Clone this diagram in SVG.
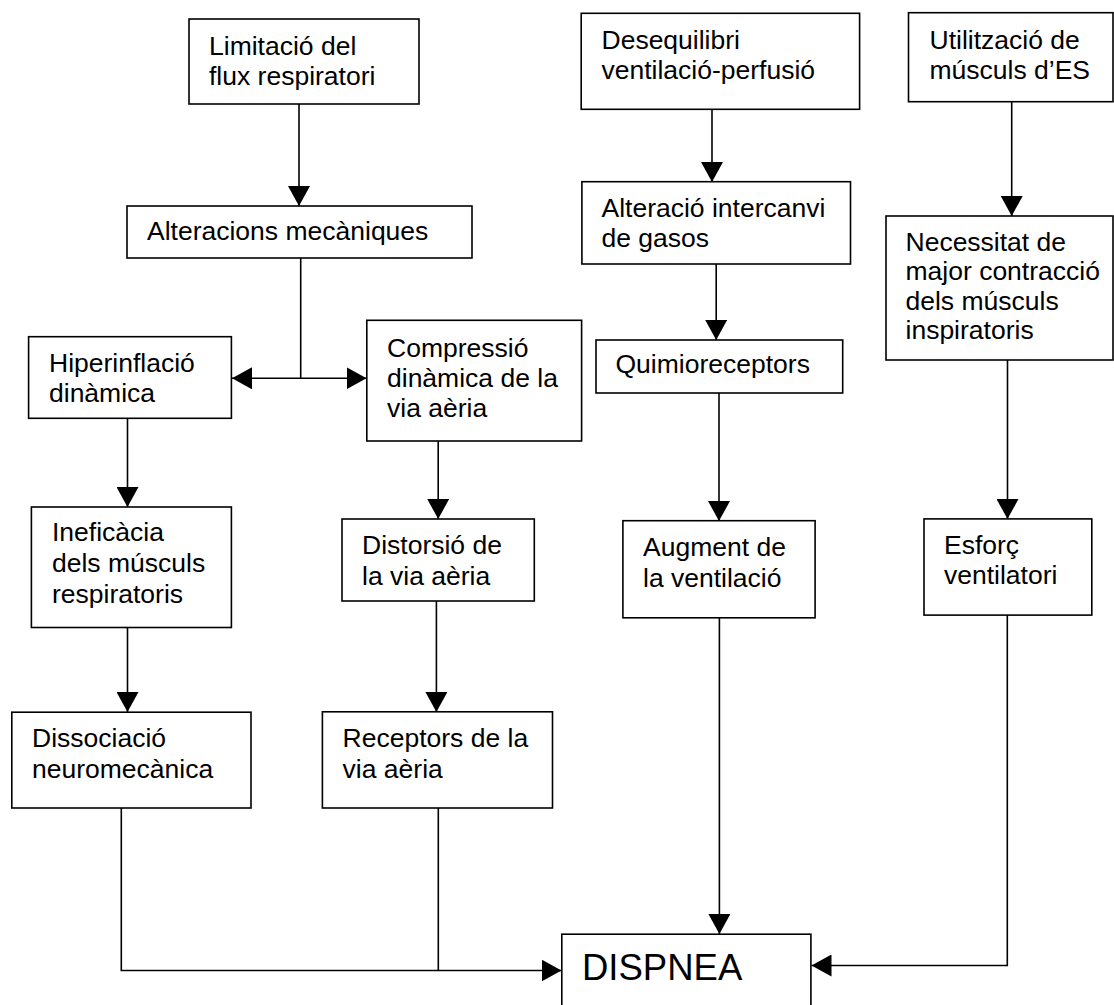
<svg xmlns="http://www.w3.org/2000/svg" width="1114" height="1005" viewBox="0 0 1114 1005">
<style>
.box{fill:#fff;stroke:#000;stroke-width:1.6}
.t{font-family:"Liberation Sans",Arial,sans-serif;font-size:26.5px;fill:#000}
.big{font-family:"Liberation Sans",Arial,sans-serif;font-size:36.5px;fill:#000}
.c{fill:none;stroke:#000;stroke-width:1.6}
</style>
<defs>
<marker id="ah" viewBox="0 0 20 22" markerWidth="20" markerHeight="22" refX="20" refY="11" orient="auto-start-reverse" markerUnits="userSpaceOnUse">
<path d="M0,0 L20,11 L0,22 Z" fill="#000"/>
</marker>
</defs>
<rect width="1114" height="1005" fill="#fff"/>
<g id="connectors">
<line class="c" x1="299" y1="104" x2="299" y2="206" marker-end="url(#ah)"/>
<line class="c" x1="300.7" y1="258" x2="300.7" y2="378"/>
<line class="c" x1="232" y1="378.3" x2="366.5" y2="378.3" marker-start="url(#ah)" marker-end="url(#ah)"/>
<line class="c" x1="127.5" y1="418" x2="127.5" y2="507" marker-end="url(#ah)"/>
<line class="c" x1="127.5" y1="627.5" x2="127.5" y2="712" marker-end="url(#ah)"/>
<polyline class="c" points="121.3,808 121.3,970.5 561.5,970.5" marker-end="url(#ah)"/>
<line class="c" x1="438.3" y1="808" x2="438.3" y2="970.5"/>
<line class="c" x1="438.2" y1="441" x2="438.2" y2="519" marker-end="url(#ah)"/>
<line class="c" x1="436.4" y1="601" x2="436.4" y2="712" marker-end="url(#ah)"/>
<line class="c" x1="712" y1="109" x2="712" y2="182" marker-end="url(#ah)"/>
<line class="c" x1="716.2" y1="264" x2="716.2" y2="340" marker-end="url(#ah)"/>
<line class="c" x1="719" y1="393" x2="719" y2="521" marker-end="url(#ah)"/>
<line class="c" x1="719.4" y1="618" x2="719.4" y2="934" marker-end="url(#ah)"/>
<line class="c" x1="1011.7" y1="101.7" x2="1011.7" y2="216" marker-end="url(#ah)"/>
<line class="c" x1="1007.5" y1="360" x2="1007.5" y2="519" marker-end="url(#ah)"/>
<polyline class="c" points="1007.3,615 1007.3,965.5 811.5,965.5" marker-end="url(#ah)"/>
</g>
<g id="limitacio"><rect class="box" x="189" y="19" width="230" height="85"/><text class="t" x="209" y="55">Limitació del</text><text class="t" x="209" y="84.5">flux respiratori</text></g>
<g id="alteracions"><rect class="box" x="127" y="206" width="345" height="52"/><text class="t" x="147" y="240">Alteracions mecàniques</text></g>
<g id="hiperinflacio"><rect class="box" x="28.6" y="336.7" width="202.8" height="81.6"/><text class="t" x="49" y="371.7">Hiperinflació</text><text class="t" x="49" y="401.7">dinàmica</text></g>
<g id="compressio"><rect class="box" x="366.8" y="320.3" width="214.8" height="120.7"/><text class="t" x="387" y="356.5">Compressió</text><text class="t" x="387" y="386.6">dinàmica de la</text><text class="t" x="387" y="416.7">via aèria</text></g>
<g id="ineficacia"><rect class="box" x="31.4" y="507" width="200" height="120.5"/><text class="t" x="52" y="541.3">Ineficàcia</text><text class="t" x="52" y="572.2">dels músculs</text><text class="t" x="52" y="603">respiratoris</text></g>
<g id="distorsio"><rect class="box" x="342" y="519" width="192.3" height="82"/><text class="t" x="362" y="554.3">Distorsió de</text><text class="t" x="362" y="584.9">la via aèria</text></g>
<g id="dissociacio"><rect class="box" x="11.8" y="712.2" width="239.2" height="95.8"/><text class="t" x="32" y="746.5">Dissociació</text><text class="t" x="32" y="777.5">neuromecànica</text></g>
<g id="receptors"><rect class="box" x="322.4" y="711.8" width="230.1" height="96.2"/><text class="t" x="342.6" y="747">Receptors de la</text><text class="t" x="342.6" y="778">via aèria</text></g>
<g id="desequilibri"><rect class="box" x="581.2" y="13.3" width="278.4" height="96"/><text class="t" x="601.5" y="49.3">Desequilibri</text><text class="t" x="601.5" y="78.7">ventilació-perfusió</text></g>
<g id="alteracio"><rect class="box" x="581.9" y="181.7" width="268.6" height="82.3"/><text class="t" x="601.5" y="217.3">Alteració intercanvi</text><text class="t" x="601.5" y="246.7">de gasos</text></g>
<g id="quimioreceptors"><rect class="box" x="596" y="340" width="246.7" height="53"/><text class="t" x="615.5" y="373.3">Quimioreceptors</text></g>
<g id="augment"><rect class="box" x="622.9" y="520.7" width="192.2" height="97.1"/><text class="t" x="643" y="556.2">Augment de</text><text class="t" x="643" y="586.5">la ventilació</text></g>
<g id="utilitzacio"><rect class="box" x="908.5" y="12.7" width="204.5" height="89"/><text class="t" x="929.5" y="49.3">Utilització de</text><text class="t" x="929.5" y="78.7">músculs d’ES</text></g>
<g id="necessitat"><rect class="box" x="886" y="216" width="227" height="144"/><text class="t" x="905.5" y="250.5">Necessitat de</text><text class="t" x="905.5" y="280">major contracció</text><text class="t" x="905.5" y="309.5">dels músculs</text><text class="t" x="905.5" y="339">inspiratoris</text></g>
<g id="esforc"><rect class="box" x="924" y="518.9" width="167.8" height="96.2"/><text class="t" x="944" y="554.3">Esforç</text><text class="t" x="944" y="584.2">ventilatori</text></g>
<g id="dispnea"><rect class="box" x="561.8" y="934.2" width="249.1" height="90"/><text class="big" x="582" y="979.7">DISPNEA</text></g>
</svg>
